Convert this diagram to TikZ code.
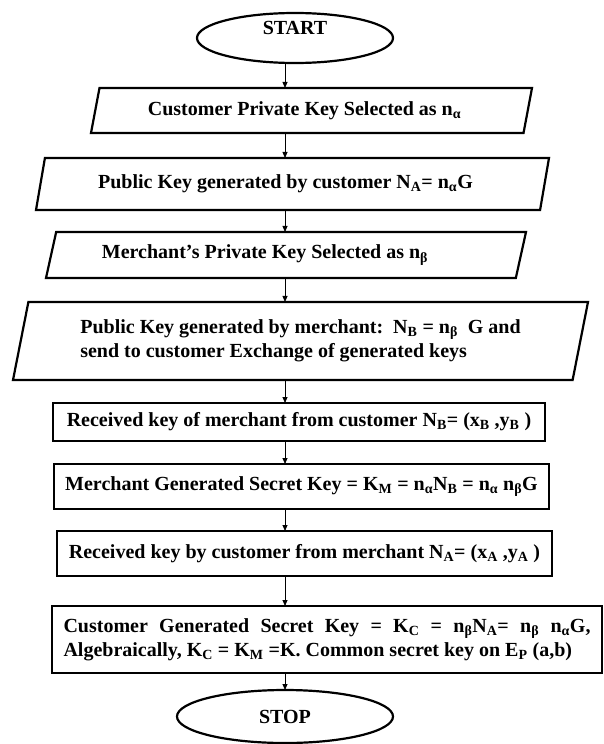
\documentclass[tikz,border=0pt]{standalone}
\usepackage{fontspec}
\setmainfont{Liberation Serif}
\usetikzlibrary{shapes.geometric,arrows.meta}

\begin{document}
\begin{tikzpicture}[x=1pt, y=-1pt,
  font=\fontsize{20}{24}\selectfont\bfseries,
  every node/.style={inner sep=0pt, outer sep=0pt},
  term/.style={ellipse, draw, line width=2.2pt},
  iobox/.style={trapezium, draw, line width=2.2pt, trapezium stretches body},
  procbox/.style={rectangle, draw, line width=2.4pt},
  arr/.style={-{Triangle[length=6pt, width=5pt]}, line width=0.8pt}]

  \useasboundingbox (0,0) rectangle (603,744);

  % Terminals
  \node[term, minimum width=196, minimum height=50,
        label={[yshift=10pt]center:START}] (start) at (295,38) {};
  \node[term, minimum width=216, minimum height=53] (stop) at (285,716.5) {STOP};

  % Input / output boxes
  \node[iobox, trapezium left angle=65, trapezium right angle=115,
        minimum width=441, minimum height=45] (b1) at (311.5,110.5)
        {\hspace*{-14pt}Customer Private Key Selected as n\textsubscript{α}};
  \node[iobox, trapezium left angle=64, trapezium right angle=116,
        minimum width=513, minimum height=52] (b2) at (292.5,184)
        {\hspace*{-14pt}Public Key generated by customer N\textsubscript{A}= n\textsubscript{α}G};
  \node[iobox, trapezium left angle=63, trapezium right angle=117,
        minimum width=480, minimum height=46] (b3) at (286,255)
        {\hspace*{-42pt}Merchant’s Private Key Selected as n\textsubscript{β}};
  \node[iobox, trapezium left angle=70, trapezium right angle=110,
        minimum width=575, minimum height=78, align=left] (b4) at (300.5,341)
        {Public Key generated by merchant:\ \ N\textsubscript{B} = n\textsubscript{β}\ \ G and\\
         send to customer Exchange of generated keys};

  % Process boxes
  \node[procbox, minimum width=492, minimum height=38] (b5) at (299,422)
        {Received key of merchant from customer N\textsubscript{B}= (x\textsubscript{B} ,y\textsubscript{B} )};
  \node[procbox, minimum width=495, minimum height=45] (b6) at (301.5,486.5)
        {Merchant Generated Secret Key = K\textsubscript{M} = n\textsubscript{α}N\textsubscript{B} = n\textsubscript{α} n\textsubscript{β}G};
  \node[procbox, minimum width=495, minimum height=45] (b7) at (304.5,553.5)
        {Received key by customer from merchant N\textsubscript{A}= (x\textsubscript{A} ,y\textsubscript{A} )};
  \node[procbox, minimum width=550, minimum height=67, text width=527, align=justify] (b8) at (327,639.5)
        {Customer Generated Secret Key = K\textsubscript{C} = n\textsubscript{β}N\textsubscript{A}= n\textsubscript{β} n\textsubscript{α}G,\linebreak
         Algebraically, K\textsubscript{C} = K\textsubscript{M} =K. Common secret key on E\textsubscript{P} (a,b)};

  % Connectors
  \coordinate (axis) at (285,0);
  \draw[arr] (axis |- start.south) -- (axis |- b1.north);
  \draw[arr] (axis |- b1.south) -- (axis |- b2.north);
  \draw[arr] (axis |- b2.south) -- (axis |- b3.north);
  \draw[arr] (axis |- b3.south) -- (axis |- b4.north);
  \draw[arr] (axis |- b4.south) -- (axis |- b5.north);
  \draw[arr] (axis |- b5.south) -- (axis |- b6.north);
  \draw[arr] (axis |- b6.south) -- (axis |- b7.north);
  \draw[arr] (axis |- b7.south) -- (axis |- b8.north);
  \draw[arr] (axis |- b8.south) -- (axis |- stop.north);

\end{tikzpicture}
\end{document}
